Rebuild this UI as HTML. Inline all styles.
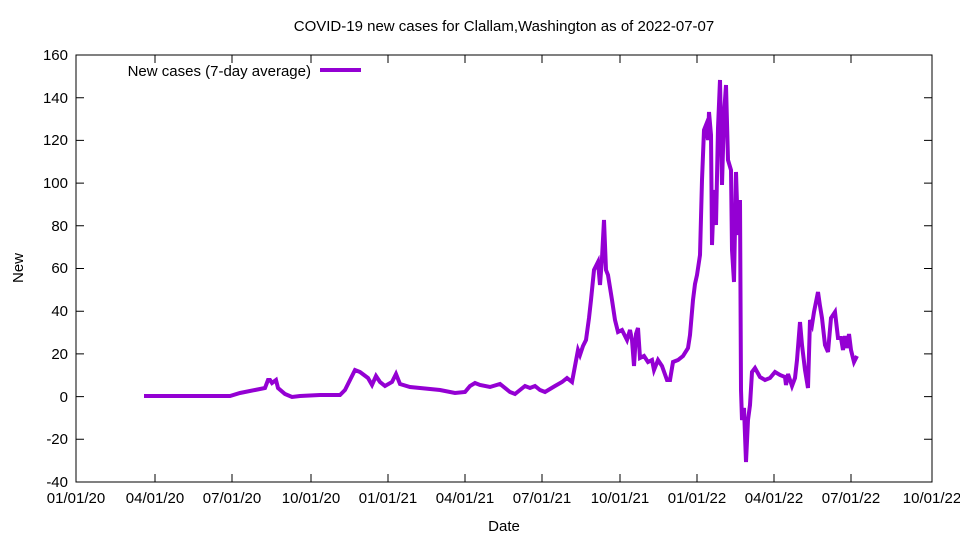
<!DOCTYPE html><html><head><style>body{margin:0;background:#fff}svg{display:block}text{font-family:"Liberation Sans",sans-serif;font-size:15px;fill:#000}</style></head><body>
<svg width="960" height="540" xmlns="http://www.w3.org/2000/svg">
<rect x="76" y="55" width="856" height="427" fill="none" stroke="#000" stroke-width="1"/>
<g stroke="#000" stroke-width="1">
<path d="M76 55h8M76 97.7h8M76 140.4h8M76 183.1h8M76 225.8h8M76 268.5h8M76 311.2h8M76 353.9h8M76 396.6h8M76 439.3h8M932 55h-8M932 97.7h-8M932 140.4h-8M932 183.1h-8M932 225.8h-8M932 268.5h-8M932 311.2h-8M932 353.9h-8M932 396.6h-8M932 439.3h-8"/>
<path d="M155 482v-8M232 482v-8M311 482v-8M388 482v-8M465 482v-8M542 482v-8M620 482v-8M697 482v-8M774 482v-8M851 482v-8M155 55v8M232 55v8M311 55v8M388 55v8M465 55v8M542 55v8M620 55v8M697 55v8M774 55v8M851 55v8"/>
</g>
<g text-anchor="end">
<text x="68" y="60">160</text><text x="68" y="103">140</text><text x="68" y="145">120</text><text x="68" y="188">100</text><text x="68" y="231">80</text><text x="68" y="273">60</text><text x="68" y="316">40</text><text x="68" y="359">20</text><text x="68" y="402">0</text><text x="68" y="444">-20</text><text x="68" y="487">-40</text>
</g>
<g text-anchor="middle">
<text x="76" y="503">01/01/20</text><text x="155" y="503">04/01/20</text><text x="232" y="503">07/01/20</text><text x="311" y="503">10/01/20</text><text x="388" y="503">01/01/21</text><text x="465" y="503">04/01/21</text><text x="542" y="503">07/01/21</text><text x="620" y="503">10/01/21</text><text x="697" y="503">01/01/22</text><text x="774" y="503">04/01/22</text><text x="851" y="503">07/01/22</text><text x="932" y="503">10/01/22</text>
<text x="504" y="531">Date</text>
<text x="504" y="31">COVID-19 new cases for Clallam,Washington as of 2022-07-07</text>
</g>
<text x="23" y="268" text-anchor="middle" transform="rotate(-90 23 268)">New</text>
<text x="311" y="76" text-anchor="end">New cases (7-day average)</text>
<path d="M320 70h41" stroke="#9400d3" stroke-width="4"/>
<polyline fill="none" stroke="#9400d3" stroke-width="4" stroke-linejoin="miter" points="144,396 170,396 200,396 230,396 240,393 255,390 265,388 268,380 270,380 272,383 276,380 278,388 285,394 292,397 300,396 320,395 340,395 345,390 350,380 355,370 360,372 368,378 372,385 376,376 380,382 385,386 392,382 396,374 400,384 410,387 420,388 440,390 455,393 465,392 470,386 475,383 480,385 490,387 500,384 510,392 515,394 520,390 525,386 530,388 535,386 540,390 545,392 555,386 562,382 567,378 572,382 575,366 578,350 580,355 583,346 586,340 589,318 591,300 594,270 598,262 600,285 602,258 604,220 606,270 608,275 612,300 615,320 618,332 622,330 627,340 630,330 632,340 634,366 636,334 638,328 640,358 644,356 648,362 652,360 654,370 658,360 662,366 667,380 670,380 673,362 678,360 683,356 688,348 690,335 693,300 695,284 697,275 700,255 702,180 704,130 706,125 708,140 709,112 711,135 712,245 714,190 716,225 718,128 720,80 722,185 724,115 726,85 728,160 731,170 732,250 734,282 736,172 738,235 740,200 741,390 742,420 744,408 746,462 748,420 750,405 752,372 755,368 760,377 765,380 770,378 775,372 780,375 785,377 786,385 788,374 792,386 795,378 797,360 800,322 802,345 805,370 808,388 810,320 812,325 814,312 816,302 818,292 820,306 822,318 825,345 828,352 831,318 835,312 838,338 841,338 843,350 845,336 847,348 849,334 851,350 854,362 857,356"/>
</svg>
</body></html>
